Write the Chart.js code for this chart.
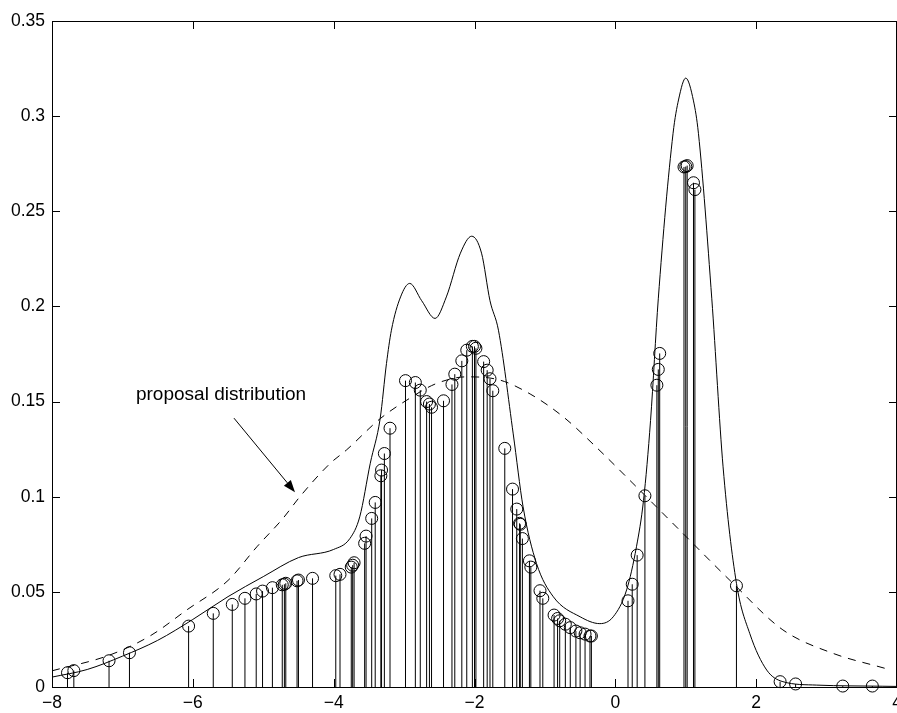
<!DOCTYPE html>
<html lang="en">
<head>
    <meta charset="UTF-8">
    <title>proposal distribution</title>
    <script src="https://cdn.jsdelivr.net/npm/chart.js@4.4.0/dist/chart.umd.min.js"></script>
    <style>
        body { margin: 0; background: #fff; }
        #wrap { width: 897px; height: 713px; }
    </style>
</head>
<body>
    <div id="wrap">
        <canvas id="graph1" width="897" height="713"></canvas>
    </div>
    <script>
        // target density (solid line)
        const targetX = [-8, -7.5, -7.0, -6.5, -6.0, -5.5, -5.0, -4.5, -4.0, -3.77, -3.63, -3.48, -3.34, -3.25, -3.18, -3.05, -2.92, -2.75, -2.56, -2.4, -2.2, -2.04, -1.9, -1.78, -1.66, -1.45, -1.31, -1.12, -0.88, -0.5, -0.22, -0.03, 0.16, 0.30, 0.40, 0.5, 0.61, 0.82, 0.9, 1.0, 1.11, 1.18, 1.37, 1.53, 1.72, 1.91, 2.15, 2.38, 2.86, 3.8, 4.0]
        const targetY = [0.0052, 0.0092, 0.0162, 0.0245, 0.0355, 0.0475, 0.058, 0.068, 0.0723, 0.078, 0.0894, 0.1176, 0.141, 0.17, 0.1875, 0.205, 0.2121, 0.203, 0.1937, 0.205, 0.228, 0.2369, 0.228, 0.203, 0.1875, 0.133, 0.0947, 0.065, 0.0474, 0.0369, 0.0333, 0.0369, 0.051, 0.0737, 0.098, 0.14, 0.204, 0.291, 0.309, 0.320, 0.308, 0.291, 0.204, 0.1157, 0.0545, 0.028, 0.0089, 0.0028, 0.001, 0.0004, 0.0003]

        // proposal distribution (dashed line)
        const propX = [-8, -7.18, -6.6, -6.09, -5.5, -5.09, -4.72, -4.48, -4.05, -3.82, -3.34, -2.96, -2.54, -2.11, -1.64, -1.21, -0.74, -0.27, 0.25, 0.96, 1.67, 2.38, 3.09, 3.83]
        const propY = [0.0085, 0.0168, 0.027, 0.0404, 0.056, 0.0737, 0.0886, 0.1, 0.1175, 0.1245, 0.141, 0.1508, 0.1595, 0.163, 0.1613, 0.154, 0.142, 0.126, 0.107, 0.0807, 0.0545, 0.030, 0.0177, 0.0098]

        // weighted samples (stems + circles)
        const sampleX = [-7.78, -7.69, -7.19, -6.90, -6.06, -5.71, -5.44, -5.26, -5.10, -5.01, -4.87, -4.73, -4.70, -4.68, -4.52, -4.50, -4.30, -3.97, -3.91, -3.75, -3.73, -3.71, -3.56, -3.54, -3.46, -3.41, -3.33, -3.32, -3.28, -3.20, -2.98, -2.84, -2.77, -2.68, -2.64, -2.61, -2.44, -2.32, -2.28, -2.18, -2.11, -2.03, -2.00, -1.98, -1.87, -1.82, -1.78, -1.74, -1.57, -1.46, -1.40, -1.36, -1.35, -1.32, -1.22, -1.20, -1.07, -1.03, -0.87, -0.82, -0.79, -0.71, -0.64, -0.56, -0.50, -0.43, -0.36, -0.34, 0.18, 0.24, 0.31, 0.42, 0.59, 0.61, 0.63, 0.975, 1.00, 1.02, 1.11, 1.13, 1.72, 2.34, 2.56, 3.23, 3.65]
        const sampleY = [0.0075, 0.0086, 0.0138, 0.018, 0.032, 0.0387, 0.0434, 0.0466, 0.0489, 0.0504, 0.0522, 0.0537, 0.054, 0.0545, 0.0558, 0.0562, 0.0571, 0.0585, 0.0592, 0.063, 0.064, 0.0653, 0.0755, 0.0793, 0.0886, 0.097, 0.111, 0.114, 0.1227, 0.136, 0.161, 0.160, 0.156, 0.150, 0.1487, 0.147, 0.1504, 0.159, 0.1644, 0.1714, 0.177, 0.179, 0.179, 0.178, 0.171, 0.1665, 0.162, 0.1557, 0.1254, 0.104, 0.0935, 0.086, 0.0855, 0.078, 0.0663, 0.063, 0.0506, 0.0466, 0.0378, 0.036, 0.0348, 0.033, 0.0312, 0.0294, 0.0285, 0.0278, 0.0268, 0.0268, 0.0453, 0.054, 0.0693, 0.1005, 0.1586, 0.1669, 0.1753, 0.2733, 0.2735, 0.274, 0.265, 0.2614, 0.0532, 0.0028, 0.0016, 0.0005, 0.0005]

        const xTicks = [-8, -6, -4, -2, 0, 2, 4]
        const yTicks = [0, 0.05, 0.1, 0.15, 0.2, 0.25, 0.3, 0.35]

        // annotation (data units)
        const noteText = 'proposal distribution'
        const notePos = [-5.60, 0.1535]
        const arrowFrom = [-5.416, 0.1413]
        const arrowTo = [-4.549, 0.1024]

        function pts(xs, ys){
            return xs.map((x, i) => ({x: x, y: ys[i]}))
        }

        const FONT = '"Liberation Sans", Arial, Helvetica, sans-serif'

        // stems, frame, inward ticks, text + arrow
        const extras = {
            id: 'extras',
            beforeDatasetsDraw(chart){
                const ctx = chart.ctx
                const xs = chart.scales.x, ys = chart.scales.y
                ctx.save()
                ctx.strokeStyle = '#000'
                ctx.lineWidth = 1
                const y0 = ys.getPixelForValue(0)
                for (let i = 0; i < sampleX.length; i++){
                    const px = xs.getPixelForValue(sampleX[i])
                    ctx.beginPath()
                    ctx.moveTo(px, y0)
                    ctx.lineTo(px, ys.getPixelForValue(sampleY[i]))
                    ctx.stroke()
                }
                ctx.restore()
            },
            afterDraw(chart){
                const ctx = chart.ctx
                const a = chart.chartArea
                const xs = chart.scales.x, ys = chart.scales.y
                ctx.save()
                ctx.strokeStyle = '#000'
                ctx.lineWidth = 1
                ctx.strokeRect(a.left + 0.5, a.top + 0.5, a.right - a.left - 1, a.bottom - a.top)
                const tl = 8
                ctx.beginPath()
                xTicks.forEach(v => {
                    const px = Math.round(xs.getPixelForValue(v)) + 0.5
                    ctx.moveTo(px, a.bottom); ctx.lineTo(px, a.bottom - tl)
                    ctx.moveTo(px, a.top); ctx.lineTo(px, a.top + tl)
                })
                yTicks.forEach(v => {
                    const py = Math.round(ys.getPixelForValue(v)) + 0.5
                    ctx.moveTo(a.left, py); ctx.lineTo(a.left + tl, py)
                    ctx.moveTo(a.right, py); ctx.lineTo(a.right - tl, py)
                })
                ctx.stroke()

                // annotation
                ctx.fillStyle = '#000'
                ctx.font = '19px ' + FONT
                ctx.textAlign = 'center'
                ctx.textBaseline = 'middle'
                ctx.fillText(noteText, xs.getPixelForValue(notePos[0]), ys.getPixelForValue(notePos[1]))

                const x1 = xs.getPixelForValue(arrowFrom[0]), y1 = ys.getPixelForValue(arrowFrom[1])
                const x2 = xs.getPixelForValue(arrowTo[0]), y2 = ys.getPixelForValue(arrowTo[1])
                const ang = Math.atan2(y2 - y1, x2 - x1)
                const hl = 12, hw = 4.5
                ctx.beginPath()
                ctx.moveTo(x1, y1)
                ctx.lineTo(x2 - hl * Math.cos(ang), y2 - hl * Math.sin(ang))
                ctx.stroke()
                ctx.beginPath()
                ctx.moveTo(x2, y2)
                ctx.lineTo(x2 - hl * Math.cos(ang) + hw * Math.sin(ang), y2 - hl * Math.sin(ang) - hw * Math.cos(ang))
                ctx.lineTo(x2 - hl * Math.cos(ang) - hw * Math.sin(ang), y2 - hl * Math.sin(ang) + hw * Math.cos(ang))
                ctx.closePath()
                ctx.fill()
                ctx.restore()
            }
        }

        let ctx1 = document.getElementById('graph1').getContext('2d')
        let config1 = {
            type: 'scatter',
            data: {
                datasets: [
                    {
                        label: 'target',
                        data: pts(targetX, targetY),
                        showLine: true,
                        borderColor: '#000',
                        borderWidth: 1,
                        pointRadius: 0,
                        cubicInterpolationMode: 'monotone',
                        order: 3
                    },
                    {
                        label: 'proposal',
                        data: pts(propX, propY),
                        showLine: true,
                        borderColor: '#000',
                        borderWidth: 1,
                        borderDash: [8, 7],
                        pointRadius: 0,
                        cubicInterpolationMode: 'monotone',
                        order: 2
                    },
                    {
                        label: 'samples',
                        data: pts(sampleX, sampleY),
                        showLine: false,
                        pointStyle: 'circle',
                        pointRadius: 6,
                        pointBorderWidth: 1,
                        pointBorderColor: '#000',
                        pointBackgroundColor: 'rgba(0,0,0,0)',
                        clip: false,
                        order: 1
                    }
                ]
            },
            options: {
                responsive: false,
                animation: false,
                events: [],
                layout: { autoPadding: false, padding: { top: 21, left: 0, right: 0, bottom: 0 } },
                plugins: {
                    legend: { display: false },
                    tooltip: { enabled: false },
                    title: { display: false }
                },
                scales: {
                    x: {
                        type: 'linear',
                        min: -8,
                        max: 4,
                        offset: false,
                        grid: { display: false, drawTicks: false },
                        border: { display: false },
                        afterBuildTicks: s => { s.ticks = xTicks.map(v => ({value: v})) },
                        afterFit: s => { s.height = 26; s.paddingLeft = 0; s.paddingRight = 0 },
                        ticks: {
                            color: '#000',
                            padding: 6,
                            maxRotation: 0,
                            autoSkip: false,
                            font: { family: FONT, size: 17.5 },
                            callback: v => v < 0 ? '\u2212' + (-v) : String(v)
                        }
                    },
                    y: {
                        type: 'linear',
                        min: 0,
                        max: 0.35,
                        grid: { display: false, drawTicks: false },
                        border: { display: false },
                        afterBuildTicks: s => { s.ticks = yTicks.map(v => ({value: v})) },
                        afterFit: s => { s.width = 52; s.paddingTop = 0; s.paddingBottom = 0 },
                        ticks: {
                            color: '#000',
                            padding: 7,
                            autoSkip: false,
                            font: { family: FONT, size: 17.5 },
                            callback: v => String(Math.round(v * 100) / 100)
                        }
                    }
                }
            },
            plugins: [extras]
        }
        let graph1 = new Chart(ctx1, config1)
    </script>
</body>
</html>
